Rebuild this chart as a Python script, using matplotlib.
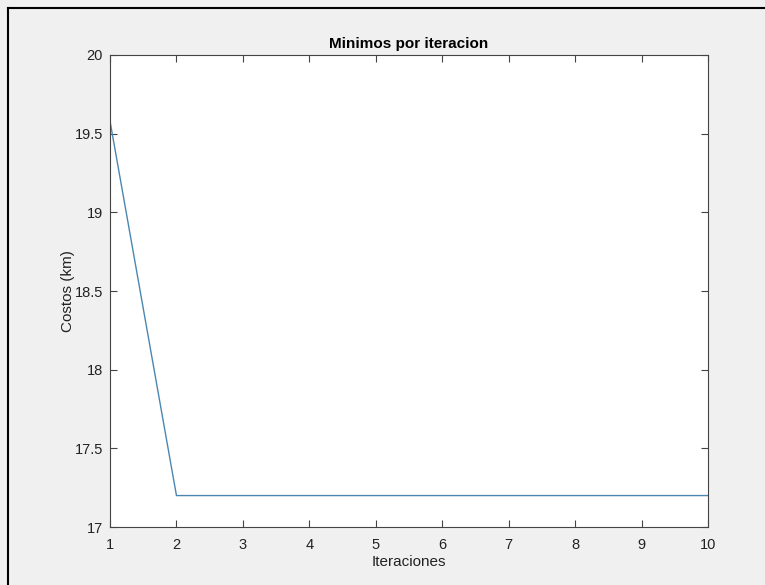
import matplotlib
matplotlib.use("Agg")
import matplotlib.pyplot as plt
from matplotlib.lines import Line2D

iteraciones = [1, 2, 3, 4, 5, 6, 7, 8, 9, 10]
costos = [19.58, 17.2, 17.2, 17.2, 17.2, 17.2, 17.2, 17.2, 17.2, 17.2]
yticks = [17, 17.5, 18, 18.5, 19, 19.5, 20]

plt.rcParams['font.family'] = ['Liberation Sans', 'DejaVu Sans']

fig = plt.figure(figsize=(7.65, 5.85), dpi=100, facecolor='#f0f0f0')
ax = fig.add_axes([0.1438, 0.0991, 0.9255 - 0.1438, 0.906 - 0.0991])
ax.set_facecolor('white')

ax.plot(iteraciones, costos, color='#4a87b0', linewidth=1.0)

ax.set_xlim(1, 10)
ax.set_ylim(17, 20)
ax.set_xticks(iteraciones)
ax.set_yticks(yticks)
ax.set_yticklabels(['17', '17.5', '18', '18.5', '19', '19.5', '20'])
ax.tick_params(direction='in', length=5, width=0.8, color='#444444',
               labelsize=10.5, labelcolor='#222222', top=True, right=True)
ax.tick_params(axis='x', pad=8)
ax.tick_params(axis='y', pad=5)
for s in ax.spines.values():
    s.set_color('#444444')
    s.set_linewidth(0.8)

ax.set_title('Minimos por iteracion', fontsize=11, fontweight='bold', pad=5)
ax.set_xlabel('Iteraciones', fontsize=11, color='#222222', labelpad=2)
ax.set_ylabel('Costos (km)', fontsize=11, color='#222222', labelpad=0)

# marco de la imagen (arriba e izquierda)
fig.add_artist(Line2D([8 / 765, 1], [1 - 8 / 585, 1 - 8 / 585], transform=fig.transFigure, color='black', linewidth=1.5))
fig.add_artist(Line2D([8 / 765, 8 / 765], [0, 1 - 8 / 585], transform=fig.transFigure, color='black', linewidth=1.5))

fig.savefig('out.png', dpi=100, facecolor=fig.get_facecolor())
